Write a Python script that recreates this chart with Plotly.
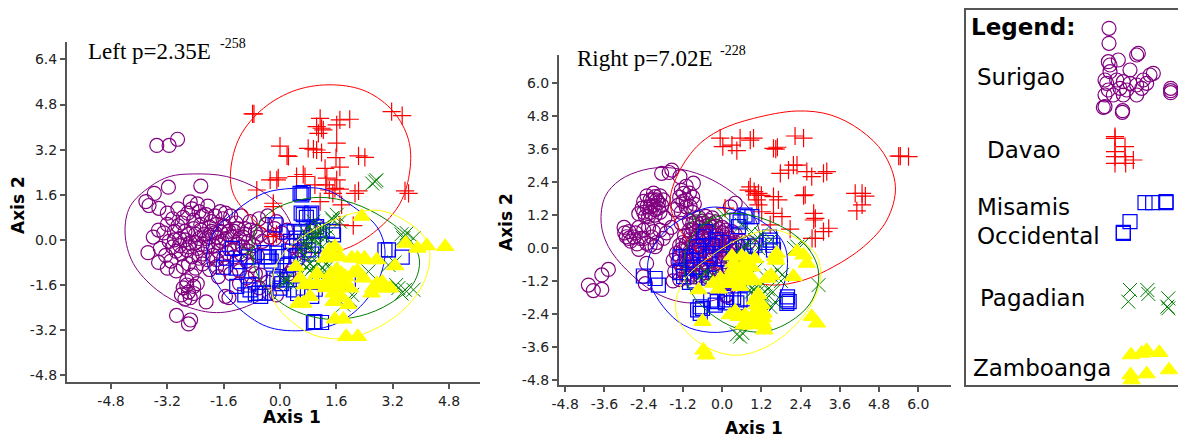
import plotly.graph_objects as go

COL = dict(s="#800080", d="#ff0000", m="#0000ff", p="#008000", z="#ffff00")

# axis ticks
left_x_ticks = [-4.8, -3.2, -1.6, 0.0, 1.6, 3.2, 4.8]
left_y_ticks = [-4.8, -3.2, -1.6, 0.0, 1.6, 3.2, 4.8, 6.4]
right_x_ticks = [-4.8, -3.6, -2.4, -1.2, 0.0, 1.2, 2.4, 3.6, 4.8, 6.0]
right_y_ticks = [-4.8, -3.6, -2.4, -1.2, 0.0, 1.2, 2.4, 3.6, 4.8, 6.0]

# ---------- left panel points ----------
left_surigao = [(-3.5,3.35),(-3.15,3.35),(-2.91,3.57),(-2.94,-2.68),(-2.6,-2.98),(-2.54,-2.84),
 (-3.81,1.36),(-3.72,1.22),(-3.57,1.65),(-3.44,1.12),(-3.17,1.87),(-2.25,1.91),(-3.2,.95),(-3.05,.75),(-2.9,1.1),
 (-2.78,.6),(-2.62,.95),(-2.55,1.35),(-2.35,1.28),(-2.45,.7),(-2.2,.85),(-2.05,1.2),(-1.95,.65),(-1.7,1.0),(-1.62,.75),
 (-1.55,.45),(-1.4,.85),(-1.25,.6),(-1.1,.85),(-1.0,.4),(-.85,.65),(-.7,.3),(-.55,.2),(-.4,.55),(-.3,.1),(-.15,.05),
 (.05,.25),(-3.6,.1),(-3.45,.35),(-3.3,.25),(-3.15,-.05),(-3.0,.3),(-2.85,.05),(-2.7,.3),(-2.55,-.1),(-2.4,.2),
 (-2.25,.35),(-2.1,.05),(-1.95,.3),(-1.8,.1),(-1.65,-.05),(-1.5,.2),(-1.35,.1),(-1.2,-.15),(-1.05,.1),(-.9,-.05),
 (-.75,-.2),(-3.75,-.45),(-3.4,-.3),(-3.25,-.55),(-3.1,-.75),(-3.45,-.8),(-2.95,-.4),(-2.8,-.5),(-2.65,-.35),(-2.5,-.6),
 (-2.35,-.3),(-2.2,-.5),(-2.05,-.25),(-1.9,-.55),(-1.75,-.4),(-1.6,-.65),(-1.45,-.3),(-1.3,-.6),(-1.1,-.5),(-.95,-.75),
 (-.8,-.9),(-.65,-.55),(-3.2,-1.0),(-2.95,-1.1),(-2.75,-.95),(-2.6,-.85),(-2.4,-1.0),(-2.2,-.85),(-2.0,-1.05),(-1.8,-.95),
 (-1.55,-1.0),(-1.4,-1.2),(-1.15,-1.1),(-.95,-1.35),(-.7,-1.2),(-.75,-1.55),(-.6,-1.7),(-.35,-1.5),(-2.65,-1.45),
 (-2.75,-1.7),(-2.6,-1.85),(-2.8,-1.95),(-2.55,-2.05),(-2.45,-1.65),(-2.1,-2.2),(-1.55,-2.0),(-1.45,-2.05),(-1.75,-1.3),
 (.35,-.2),(.5,-.7),(.25,-1.2),(.35,-1.05),(1.05,.5),(.7,-.45),(-.1,.65),
 (-2.0,.1),(-1.85,.25),(-2.15,.2),(-2.3,.05),(-1.7,.3),(-1.75,-.1),(-1.9,-.2),(-2.2,-.15),(-2.4,-.1),(-1.55,.05),(-1.45,.3),(-1.6,.5),
 (-1.8,.55),(-2.0,.45),(-2.25,.55),(-2.45,.4),(-2.6,.2),(-2.7,0.0),(-1.3,.3),(-1.15,.05),(-1.2,.4),(-1.0,.2),(-.85,.35),(-.65,.1),(-.5,-.05),
 (-2.9,.5),(-2.75,.8),(-2.5,1.1),(-2.3,1.0),(-2.1,.9),(-1.85,.85),(-1.55,.95),(-3.0,.0),(-3.2,.55),(-2.3,-.65),(-2.05,-.7),(-1.8,-.7),
 (-2.6,-.25),(-2.85,-.2),(-3.05,-.25),(-1.5,-.45),(-1.3,-.35),(-1.05,-.25),(-.9,-.4),(-2.5,-1.25),(-2.35,-1.55),(-2.65,-1.6),(-2.45,-1.9),
 (-2.7,-2.1),(-1.15,-1.55),(-.55,-1.25),(-.3,-1.9),(-.1,-1.95),(.55,-.35),(.75,.1),(.9,.3),(-.6,.75),(-.35,.85),(-.15,.4),(.2,.35)]
left_davao = [(-.78,4.47),(-.74,4.47),(3.17,4.55),(3.47,4.41),(1.14,4.31),(1.04,4.02),(1.18,3.96),(1.09,3.78),(1.23,3.9),
 (1.61,4.08),(1.7,4.26),(1.98,4.28),(0,3.33),(.24,2.96),(.2,2.98),(1.61,3.43),(.8,3.25),(1.04,3.19),(1.18,3.1),
 (.95,3.22),(1.59,2.92),(2.23,2.98),(2.41,2.93),(1.7,2.58),(1.28,2.54),(-.28,2.13),(-.09,2.13),(-.05,2.2),(.47,2.25),
 (.71,2.25),(.66,2.32),(1.33,2.19),(.99,1.95),(1.61,2.13),(1.4,1.77),(1.56,1.83),(1.7,1.8),(2.13,1.65),(2.23,1.74),
 (-.66,1.77),(-.19,1.3),(-.19,1.18),(1.14,1.36),(1.75,1.24),(1.7,.53),(2.08,.51),(3.55,1.74),(3.65,1.65),(-.19,.12),
 (-.1,.2),(1.3,1.95),(1.5,1.65)]
left_misamis = [(.57,1.65),(.62,1.6),(.66,1.68),(.66,.9),(.9,.95),(1.04,.47),(1.52,.18),(1.5,.3),(-.14,.53),(.19,.28),
 (.47,.06),(.6,.25),(2.98,-.35),(3.08,-.35),(3.47,-.61),(-.43,-.59),(-.33,-.59),
 (-1.52,-.65),(-1.14,-.77),(-.8,-1.1),(-.61,-1.89),(-.43,-1.89),(-.19,-1.36),(0,-1.71),(-1.23,-1.65),(.19,-1.42),
 (.99,-2.90),(1.18,-2.93),(.95,-2.93),(.38,-1.77),(.66,-1.71),(1.94,-1.54),(-.09,-.47),(.09,-.59),(-1.61,-.97),
 (-.9,-1.6),(.3,-.85),(.8,-.35),(.9,-2.0),
 (-.37,-.6),(-.25,-.75),(-.45,-.45),(-.85,-1.77),(-.7,-1.9),(-.55,-2.0),(-1.0,-1.95),(-.09,-1.42),(.0,-1.3),(.05,-1.55),(.85,.9),(.75,.8),
 (.6,.95),(1.35,-.15),(1.2,.35),(.95,.35),(.4,.3),(.3,-.05),(.7,-.05),(.95,-.2),(.25,-.4),(.45,-.6),(.9,-.5),(1.0,-1.75),(.5,-1.9),(.2,-.9),
 (-1.35,-.3),(-1.25,-1.0),(-.9,-.6)]
left_pagadian = [(2.7,2.07),(2.74,2.12),(2.62,2.0),(1.61,.89),(1.47,.77),(3.6,.24),(3.5,.06),(3.79,.06),(3.08,-.89),(2.51,-1.12),
 (3.36,-1.71),(3.55,-1.77),(3.79,-1.77),(3.45,-1.9),(1.99,-2.13),(1.8,-2.3),(.95,0),(1.1,-.1),(.8,.1),(1.05,.2),(.7,-.2),
 (1.3,.1),(.95,-.95),(1.2,-1.0),(1.05,-1.2),(.85,-1.1),(1.4,-.9),(.15,-1.5),(.2,-1.4),(-.9,-.45),(1.2,.45),(.9,.35),
 (.85,-.25),(.75,-.05),(.95,.2),(1.15,.25),(1.2,-.25),(.6,-.4),(.7,-.55),(1.0,-.5),(1.3,-.85),(1.45,-1.05),(1.1,-.85),(1.25,-1.2),(.85,-.85),
 (.6,-1.2),(.75,-.95),(1.5,.7),(1.7,.65),(.7,.3),(.95,.65),(1.35,.4),(.1,-1.45),(.3,-1.55),(2.05,-1.95),(3.3,-1.6),(3.25,-.8),(3.45,.2)]
left_zamboanga = [(2.32,.83),(3.57,-.12),(3.9,-.3),(4.17,-.21),(4.69,-.24),(1.56,-.24),(1.52,-.59),(2.04,-.65),(2.41,-.71),
 (2.75,-.71),(1.28,-.65),(3.27,-.92),(.57,-1.36),(1.61,-1.06),(2.08,-1.18),(2.37,-1.36),(1.04,-1.54),(1.33,-1.48),(1.61,-1.36),
 (2.65,-1.71),(2.98,-1.71),(3.13,-1.71),(2.6,-1.89),(1.52,-1.89),(1.99,-1.71),(.85,-2.01),(.52,-2.25),(.66,-2.25),(1.52,-2.19),
 (1.94,-2.3),(1.56,-2.81),(1.8,-2.81),(1.88,-3.43),(2.21,-3.43),(1.8,-1.54),(1.61,-1.65),(1.66,-1.9),
 (1.4,-.35),(1.7,-.6),(1.45,-1.2),(1.75,-1.2),(1.3,-1.7),(1.55,-1.5),(1.85,-1.3),(2.2,-1.1),(.7,-1.6),(.45,-.95),(1.05,-1.2),(2.4,-.65),(2.2,-.65),
 (1.75,-2.05),(2.9,-1.5),(2.75,-1.55),(.85,-1.6)]

# ---------- left panel 95% outlines ----------
left_surigao_ring = [(-2.46,2.34),(-1.52,2.25),(-.57,1.77),(.09,1.06),(.38,.24),(.28,-.71),(-.19,-1.77),(-.95,-2.36),(-1.8,-2.58),
 (-2.65,-2.36),(-3.5,-1.77),(-4.17,-.83),(-4.4,.24),(-4.26,1.18),(-3.69,1.89),(-3.13,2.25),(-2.46,2.34)]
left_davao_ring = [(1.52,5.5),(2.46,5.26),(3.22,4.55),(3.65,3.55),(3.69,2.48),(3.41,1.3),(2.75,.35),(1.89,-.3),(1.04,-.47),(0,0),
 (-.85,.83),(-1.33,1.65),(-1.4,2.48),(-1.14,3.66),(-.47,4.67),(.47,5.32),(1.52,5.5)]
left_misamis_ring = [(.38,1.83),(1.33,1.77),(2.08,1.18),(2.75,.47),(2.98,-.35),(2.84,-1.3),(2.37,-2.25),(1.61,-2.96),(.57,-3.22),
 (-.38,-3.07),(-1.23,-2.36),(-1.8,-1.54),(-2.08,-.71),(-1.89,.24),(-1.23,1.06),(-.47,1.65),(.38,1.83)]
left_pagadian_ring = [(1.14,1.51),(2.08,1.3),(3.03,.71),(3.69,0),(3.96,-.71),(3.79,-1.54),(3.13,-2.25),(2.27,-2.7),(1.33,-2.81),
 (.47,-2.54),(-.19,-2.01),(-.66,-1.18),(-.8,-.35),(-.66,.47),(-.19,1.06),(.38,1.36),(1.14,1.51)]
left_zamboanga_ring = [(2.84,1.04),(3.6,.65),(4.12,.06),(4.26,-.59),(4.07,-1.54),(3.6,-2.36),(2.84,-3.07),(1.89,-3.49),(.95,-3.37),
 (.28,-2.84),(-.14,-2.25),(-.24,-1.65),(-.09,-.83),(.38,-.12),(1.23,.53),(2.08,.95),(2.84,1.04)]

# ---------- right panel points ----------
right_surigao = [(-4.09,-1.35),(-3.94,-1.55),(-3.68,-1.51),(-3.68,-.98),(-3.48,-.78),(-1.85,2.72),(-1.54,2.84),(-1.62,2.75),(-1.29,2.6),
 (-.88,2.36),(-1.18,1.99),(-.98,1.51),(-1.2,1.7),(-.85,1.6),(-2.05,1.87),(-2.12,1.75),(-1.95,1.65),(-2.2,1.5),(-2.05,1.4),(-2.4,1.3),
 (-1.9,1.3),(-2.25,1.15),(-2.55,1.25),(-1.75,1.1),(-2.93,.41),(-2.98,.55),(-2.8,.25),(-2.65,.55),(-2.5,.35),(-2.31,.17),(-2.15,.4),
 (-2.0,.2),(-1.8,.35),(-2.6,.15),(-1.55,.75),(-1.25,.9),(-2.31,-.56),(-2.41,-1.04),(.4,1.63),(.25,1.5),(-1.0,1.0),(-.8,.95),(-.6,.98),
 (-.4,1.0),(-.2,.95),(-.9,.7),(-.7,.75),(-.5,.8),(-.3,.75),(-.1,.7),(.1,.65),(-1.15,.45),(-.95,.5),(-.75,.45),(-.55,.5),(-.35,.55),
 (-.15,.45),(.05,.4),(.25,.35),(.4,.5),(-1.3,.1),(-1.1,.15),(-.9,.2),(-.7,.1),(-.5,.25),(-.3,.15),(-.1,.2),(.1,.1),(.3,.15),(.5,.1),
 (-1.4,-.2),(-1.2,-.1),(-1.0,-.15),(-.8,-.2),(-.6,-.05),(-.4,-.15),(-.2,-.1),(0,-.05),(.2,-.2),(.4,-.3),(-1.35,-.5),(-1.15,-.45),
 (-.95,-.5),(-.75,-.4),(-.55,-.5),(-.35,-.45),(-.15,-.55),(.05,-.5),(-1.2,-.8),(-1.0,-.75),(-.8,-.85),(-.6,-.8),(-.4,-.8),(-.2,-.75),
 (-1.3,-1.15),(-1.05,-1.1),(-.85,-1.05),(-.45,-1.05),(.14,-1.71),(.12,-1.75),(.8,.2),(.95,.05),(-2.35,-1.3),
 (-2.3,1.9),(-2.1,2.0),(-1.9,1.9),(-2.4,1.7),(-2.2,1.75),(-2.0,1.75),(-1.85,1.55),(-2.3,1.5),(-2.1,1.55),(-1.95,1.45),(-2.45,1.45),(-2.2,1.3),
 (-2.05,1.2),(-2.35,1.15),(-1.8,1.75),(-1.25,2.1),(-1.1,2.25),(-1.0,2.0),(-1.3,1.85),(-1.1,1.75),(-.9,1.85),(-1.35,1.55),(-1.1,1.5),(-.9,1.3),
 (-1.25,1.3),(-1.45,1.4),(-3.0,.75),(-2.85,.6),(-2.7,.4),(-2.85,.35),(-2.55,.75),(-2.4,.65),(-2.25,.75),(-2.4,.35),(-2.2,.1),(-2.05,.05),(-1.9,.65),
 (-1.7,.55),(-2.1,.6),(-2.55,-.05),(-.9,.9),(-.7,1.1),(-.5,1.15),(-.3,1.1),(-.6,.9),(-.4,.85),(-.2,.8),(0,.75),(.15,.5),(.3,.6),(-1.0,.65),(-.8,.6),
 (-.6,.6),(-.4,.6),(-.2,.55),(0,.55),(.2,.3),(-1.2,.2),(-1.0,.3),(-.8,.35),(-.6,.35),(-.4,.35),(-.2,.3),(0,.3),(.2,.1),(.4,.2),(.6,.25),(-1.25,-.05),
 (-1.05,0),(-.85,.05),(-.65,.1),(-.45,.05),(-.25,.05),(-.05,.05),(.15,-.1),(.35,-.1),(-1.3,-.3),(-1.1,-.3),(-.9,-.3),(-.7,-.25),(-.5,-.25),(-.3,-.25),
 (-.1,-.3),(.1,-.3),(.3,-.45),(-1.25,-.65),(-1.05,-.6),(-.85,-.6),(-.65,-.6),(-.45,-.65),(-.25,-.6),(-.05,-.65),(-1.1,-.95),(-.9,-.95),(-.7,-1.0),
 (-.5,-.9),(-.3,-.95),(-1.45,-.85),(-1.5,-1.2),(-1.5,-.45)]
right_davao = [(-.06,4.0),(.02,3.69),(.3,3.75),(.45,3.55),(.55,4.0),(.86,3.93),(.96,4.0),(1.57,3.63),(1.69,3.67),(1.64,3.6),(2.23,4.08),
 (2.49,4.0),(5.4,3.35),(5.45,3.35),(5.7,3.33),(1.78,2.72),(2.03,2.84),(2.18,3.02),(2.29,3.02),(2.59,2.78),(2.74,2.6),(3.1,2.72),(3.2,2.78),
 (.86,2.23),(.81,2.11),(1.01,1.93),(1.11,1.99),(1.06,1.75),(1.11,1.57),(.98,2.05),(1.2,1.92),(1.57,1.87),(1.72,1.75),(2.49,1.91),(2.54,1.94),
 (4.07,1.99),(4.28,1.99),(4.38,1.89),(4.28,1.57),(4.12,1.35),(1.57,1.26),(1.83,1.14),(1.21,1.32),(.09,1.45),(2.8,1.26),(2.85,1.08),(2.8,1.02),
 (3.26,.72),(3.1,.6),(2.85,.35),(2.75,.35),(2.08,.69),(1.47,.84)]
right_misamis = [(.45,1.02),(.5,.78),(.76,1.14),(.91,1.14),(.7,1.2),(1.47,.29),(1.57,-.07),(-2.41,-1.02),(-2.05,-1.11),(-1.95,-1.35),
 (1.98,-1.89),(1.98,-2.02),(2.0,-1.78),(-.67,-2.14),(-.67,-2.38),(-.21,-2.08),(-.15,-1.95),(.55,-1.89),(.14,-1.89),(.35,-1.8),
 (-1.29,-.32),(-1.18,-1.04),(-.98,-.44),(-.67,-.8),(-.78,.05),(-.57,.41),(-.37,-.32),(.45,.05),(.65,.05),(-1.0,-1.25),(-.4,-1.1),(.1,-1.2),
 (-.85,-1.2),(-.2,.3),(1.35,.2),
 (-.5,-.2),(-.9,-.7),(-.3,.1),(0,-.4),(.2,-.7),(-.7,-.1),(-1.1,-.3),(-1.3,-.9),(-.2,-.9),(-.5,.6),(-.35,-1.9),(.1,-2.0),(.45,-2.0),(.7,-1.85),
 (-.6,-2.2),(-.75,-2.25),(2.05,-1.95),(.9,-.1),(1.45,.4),(1.55,.1),(.55,.95),(1.0,.1),(.0,.2),(.7,-.3),(.35,-.1)]
right_pagadian = [(.55,-3.23),(2.95,-1.35),(.96,-1.53),(1.06,-1.65),(1.16,-1.41),(.9,-1.6),(1.83,-.98),(2.49,.17),(1.01,.29),(.76,.17),
 (1.06,-.74),(-.83,1.08),(1.47,-2.14),(1.32,-1.77),(-.67,-1.04),(.55,-.56),(.65,.05),(.45,-.56),(1.3,-1.9),(1.0,-1.35),
 (.6,-.1),(.3,-.3),(.8,-.6),(.9,.6),(1.2,.5),(1.1,.0),(1.5,-1.0),(1.7,-.8),(1.8,-1.2),(1.55,-1.6),(.3,-1.0),(-.3,-1.0),(-.5,-.9),(-.4,1.0),(.05,1.2),
 (.6,.85),(1.5,.3),(2.2,.0),(2.3,.05),(1.2,-1.7),(1.4,-1.5),(.8,-1.3),(1.65,-2.0),(.45,-3.15),(.62,-3.1)]
right_zamboanga = [(-.57,-3.72),(-.49,-3.9),(-.6,-2.68),(-.72,-1.53),(2.74,-2.5),(2.9,-2.74),(2.18,-1.04),(2.59,-.56),(2.29,-.13),(2.49,-.26),
 (1.62,-.32),(1.67,-.2),(1.37,-1.11),(.76,-.44),(.35,-.74),(-.27,-1.29),(.65,-1.11),(.86,-1.04),(.55,-1.41),(1.06,-2.08),(.24,-2.44),
 (.5,-2.5),(.76,-2.68),(1.27,-2.38),(1.21,-2.68),(1.29,-2.99),(.65,-2.81),(.75,-.9),(.45,-1.05),(-.1,-1.5),(1.0,-1.9),
 (1.0,-.4),(.55,-.85),(.3,-.3),(.2,-1.05),(-.05,-1.1),(1.1,-1.7),(1.05,-2.3),(.9,-2.55),(.4,-2.3),(1.25,-2.8),(.9,-.7),(.65,-.7),(1.5,-1.0),(.7,-1.2),
 (.6,-.3),(.8,-.55),(.95,-1.2),(.4,-1.25),(.15,-1.3),(1.2,-2.05),(.7,-2.45),(.85,-2.8),(1.25,-2.55),(1.65,-.45),(.35,-.55)]

# ---------- right panel 95% outlines ----------
right_surigao_ring = [(-1.69,2.93),(-.78,2.72),(.14,2.17),(.86,1.38),(1.16,.41),(.96,-.56),(.45,-1.53),(-.47,-1.96),(-1.29,-1.96),(-2.1,-1.59),
 (-2.92,-.8),(-3.48,.05),(-3.7,.9),(-3.58,1.87),(-3.12,2.48),(-2.41,2.84),(-1.69,2.93)]
right_davao_ring = [(2.29,4.99),(3.31,4.85),(4.22,4.3),(4.94,3.45),(5.3,2.23),(5.04,1.02),(4.33,.05),(3.41,-.68),(2.49,-1.17),(1.57,-1.35),
 (.55,-1.11),(-.47,-.44),(-1.29,.66),(-1.59,1.63),(-1.39,2.6),(-.78,3.69),(-.06,4.3),(.96,4.72),(2.29,4.99)]
right_misamis_ring = [(-.37,1.48),(.55,1.32),(1.37,.84),(1.88,.17),(2.0,-.56),(1.83,-1.53),(1.37,-2.38),(.55,-2.93),(-.37,-3.07),(-1.18,-2.81),
 (-1.8,-2.14),(-2.2,-1.29),(-2.26,-.44),(-1.9,.41),(-1.29,1.02),(-.37,1.48)]
right_pagadian_ring = [(.45,1.26),(1.37,1.02),(2.29,.41),(2.85,-.44),(2.95,-1.17),(2.69,-2.02),(2.08,-2.68),(1.27,-3.05),(.45,-2.93),(-.37,-2.38),
 (-.93,-1.65),(-1.16,-.8),(-1.08,.05),(-.67,.78),(-.16,1.14),(.45,1.26)]
right_zamboanga_ring = [(1.57,.66),(2.29,.35),(2.85,-.19),(3.02,-.92),(2.85,-1.77),(2.29,-2.74),(1.47,-3.53),(.55,-3.9),(-.16,-3.78),(-.88,-3.29),
 (-1.34,-2.62),(-1.41,-1.89),(-1.08,-1.04),(-.37,-.32),(.55,.35),(1.57,.66)]

# ---------- legend swatches ----------
legend_surigao = [(447,85),(447,130),(535,160),(530,165),(445,185),(450,195),(475,180),(510,210),(435,240),(440,250),(470,240),(490,245),(510,250),
 (530,255),(550,240),(570,225),(580,220),(435,285),(460,285),(490,285),(530,285),(435,320),(430,322),(488,332),(487,337),(632,265),(632,272),
 (632,278),(450,215),(500,270),(545,265),(560,250),(480,265),(445,270)]
legend_davao = [(465,415),(465,410),(495,440),(465,455),(465,470),(495,470),(520,480),(465,490),(497,490)]
legend_misamis = [(555,608),(578,608),(618,605),(618,608),(510,665),(490,697),(490,700)]
legend_pagadian = [(510,870),(505,905),(562,870),(565,882),(625,895),(622,920),(625,925)]
legend_zamboanga = [(513,1065),(545,1060),(560,1052),(598,1058),(512,1125),(560,1122),(627,1110),(515,1140)]

fig = go.Figure()

STY = dict(
    s=dict(symbol="circle-open", size=14, line=dict(width=1.2, color=COL["s"]), color=COL["s"]),
    d=dict(symbol="cross-thin-open", size=13, line=dict(width=1.2, color=COL["d"]), color=COL["d"]),
    m=dict(symbol="square-open", size=14, line=dict(width=1.2, color=COL["m"]), color=COL["m"]),
    p=dict(symbol="x-thin-open", size=14, line=dict(width=1, color=COL["p"]), color=COL["p"]),
    z=dict(symbol="triangle-up", size=15, line=dict(width=1.2, color=COL["z"]), color=COL["z"]),
)

def pts(data, key, xa, ya):
    fig.add_trace(go.Scatter(x=[p[0] for p in data], y=[p[1] for p in data], mode="markers",
                             marker=STY[key], xaxis=xa, yaxis=ya, showlegend=False, hoverinfo="skip"))

def ring(data, key, xa, ya):
    fig.add_trace(go.Scatter(x=[p[0] for p in data], y=[p[1] for p in data], mode="lines",
                             line=dict(color=COL[key], width=1, shape="spline", smoothing=1),
                             xaxis=xa, yaxis=ya, showlegend=False, hoverinfo="skip"))

for key, p_, r_ in [("s", left_surigao, left_surigao_ring), ("d", left_davao, left_davao_ring),
                    ("m", left_misamis, left_misamis_ring), ("p", left_pagadian, left_pagadian_ring),
                    ("z", left_zamboanga, left_zamboanga_ring)]:
    pts(p_, key, "x", "y")
    ring(r_, key, "x", "y")
for key, p_, r_ in [("s", right_surigao, right_surigao_ring), ("d", right_davao, right_davao_ring),
                    ("m", right_misamis, right_misamis_ring), ("p", right_pagadian, right_pagadian_ring),
                    ("z", right_zamboanga, right_zamboanga_ring)]:
    pts(p_, key, "x2", "y2")
    ring(r_, key, "x2", "y2")
for key, p_ in [("s", legend_surigao), ("d", legend_davao), ("m", legend_misamis),
                ("p", legend_pagadian), ("z", legend_zamboanga)]:
    pts(p_, key, "x3", "y3")

# the page has an 8px body margin, so the figure starts at (8, 8)
OFF = 8
W, H = 1186 - OFF, 437 - OFF
def px(v):
    return (v - OFF) / W
def py(v):
    return 1 - (v - OFF) / H

AX = dict(showgrid=False, zeroline=False, showline=True, linecolor="#555555", linewidth=2, ticks="outside",
          ticklen=5, tickwidth=1.5, tickcolor="#555555", tickfont=dict(family="DejaVu Sans", size=14, color="#222222"),
          mirror=False, automargin=False)

def labels(v):
    return [f"{t:.1f}" for t in v]

fig.update_layout(
    width=W, height=H, autosize=False, margin=dict(l=0, r=0, t=0, b=0),
    paper_bgcolor="white", plot_bgcolor="white",
    xaxis=dict(AX, domain=[px(67), px(480)], range=[-6.05, 5.68], tickvals=left_x_ticks, ticktext=labels(left_x_ticks), anchor="y"),
    yaxis=dict(AX, domain=[py(382), py(42)], range=[-5.04, 7.02], tickvals=left_y_ticks, ticktext=labels(left_y_ticks), anchor="x"),
    xaxis2=dict(AX, domain=[px(559), px(951)], range=[-4.99, 7.0], tickvals=right_x_ticks, ticktext=labels(right_x_ticks), anchor="y2"),
    yaxis2=dict(AX, domain=[py(385), py(55)], range=[-4.99, 7.03], tickvals=right_y_ticks, ticktext=labels(right_y_ticks), anchor="x2"),
    xaxis3=dict(domain=[px(960), 1.0], range=[0, 678], visible=False, anchor="y3"),
    yaxis3=dict(domain=[py(400), 1.0], range=[1200, 24], visible=False, anchor="x3"),
    shapes=[dict(type="rect", xref="paper", yref="paper", x0=px(965), x1=px(1195), y0=py(386), y1=py(9),
                 line=dict(color="#555555", width=2), fillcolor="rgba(0,0,0,0)")],
)

def note(x, y, text, family="DejaVu Sans", size=23, weight="normal", anchor="left", angle=0, color="#000000"):
    fig.add_annotation(xref="paper", yref="paper", x=px(x), y=py(y), text=text, showarrow=False, xanchor=anchor, yanchor="middle",
                       align="left", textangle=angle, font=dict(family=family, size=size, color=color, weight=weight))

note(86, 52, "Left p=2.35E", "Liberation Serif", 23)
note(218, 43, "-258", "Liberation Serif", 14)
note(575, 58, "Right p=7.02E", "Liberation Serif", 23)
note(718, 50, "-228", "Liberation Serif", 14)
note(969, 27, "Legend:", size=23, weight="bold")
note(975, 77, "Surigao")
note(985, 150, "Davao")
note(975, 207, "Misamis")
note(975, 236, "Occidental")
note(978, 298, "Pagadian")
note(971, 368, "Zamboanga")
note(292, 417, "Axis 1", size=17, weight="bold", anchor="center")
note(754, 428, "Axis 1", size=17, weight="bold", anchor="center")
note(18, 205, "Axis 2", size=17, weight="bold", anchor="center", angle=-90)
note(506, 222, "Axis 2", size=17, weight="bold", anchor="center", angle=-90)

fig.write_html("out.html")
